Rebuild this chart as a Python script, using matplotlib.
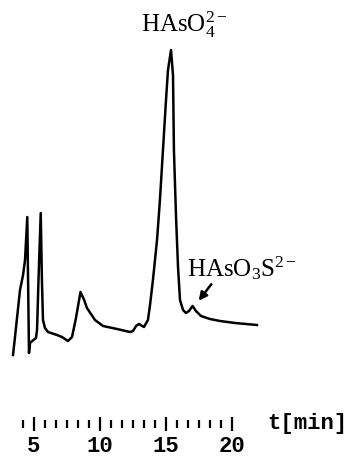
import numpy as np
import matplotlib.pyplot as plt
from matplotlib.ticker import FixedLocator

# chromatogram trace (t in min, signal in arbitrary units)
t = [3.41, 3.56, 3.94, 4.17, 4.32, 4.49, 4.62, 4.70, 4.77, 5.15, 5.23, 5.34,
     5.51, 5.60, 5.68, 5.83, 6.06, 6.74, 7.12, 7.57, 7.88, 8.18, 8.52, 8.80, 9.01,
     9.62, 10.23, 11.29, 12.27, 12.50, 12.73, 12.95, 13.33, 13.63, 13.79, 14.01, 14.32,
     14.54, 14.77, 15.00, 15.15, 15.38, 15.53, 15.60, 15.76, 15.91, 16.06, 16.29, 16.51,
     16.74, 17.01, 17.27, 17.65, 18.33, 19.09, 20.23, 21.89]
signal = [5, 23, 70, 85, 100, 143, 7, 17, 18, 22, 30, 80,
          147, 80, 40, 32, 28, 25, 23, 19, 23, 42, 68, 60, 52,
          40, 34, 31, 28, 29, 34, 36, 33, 40, 55, 80, 120,
          160, 210, 260, 290, 310, 285, 210, 143, 93, 60, 50, 47,
          49, 54, 49, 44, 41, 39, 37, 35]

major_ticks = [5, 10, 15, 20]
tick_labels = ['5', '10', '15', '20']
minor_ticks = [5 + k * 5 / 6 for k in range(-1, 19) if k % 6 != 0]

plt.rcParams['mathtext.fontset'] = 'custom'
plt.rcParams['mathtext.rm'] = 'Liberation Serif'
plt.rcParams['mathtext.it'] = 'Liberation Serif:italic'
plt.rcParams['mathtext.bf'] = 'Liberation Serif:bold'

fig = plt.figure(figsize=(3.58, 4.58), dpi=100)
ax = fig.add_axes([0, 0, 1, 1])
ax.plot(t, signal, color='black', lw=1.8, solid_joinstyle='round')

ax.set_xlim(2.424, 29.545)
ax.set_ylim(-98, 360)

for s in ['top', 'left', 'right']:
    ax.spines[s].set_visible(False)
ax.spines['bottom'].set_position(('data', -63.5))
ax.spines['bottom'].set_visible(False)
ax.set_yticks([])

ax.xaxis.set_major_locator(FixedLocator(major_ticks))
ax.set_xticklabels(tick_labels)
ax.xaxis.set_minor_locator(FixedLocator(minor_ticks))
ax.tick_params(axis='x', which='major', direction='inout', length=9.5, width=1.6, pad=4,
               labelsize=16)
ax.tick_params(axis='x', which='minor', direction='inout', length=5.5, width=1.6)
for lbl in ax.get_xticklabels():
    lbl.set_fontfamily('Liberation Mono')
    lbl.set_fontweight('bold')

ax.text(22.7, -63.5, 't[min]', fontfamily='Liberation Mono', fontweight='bold',
        fontsize=16, ha='left', va='center')

ax.text(13.1, 335, r'$\mathrm{HAsO_4^{2-}}$', fontsize=18, ha='left', va='center')
ax.text(16.6, 92, r'$\mathrm{HAsO_3S^{2-}}$', fontsize=18, ha='left', va='center')
ax.annotate('', xy=(17.35, 57), xytext=(18.56, 78),
            arrowprops=dict(arrowstyle='-|>', color='black', lw=1.8, mutation_scale=12))

fig.savefig('out.png', dpi=100)
